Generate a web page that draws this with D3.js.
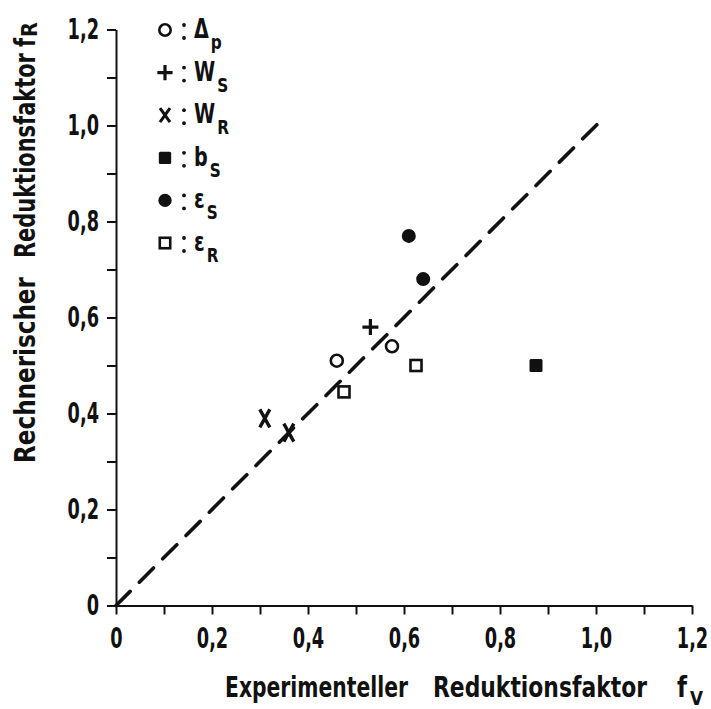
<!DOCTYPE html>
<html>
<head>
<meta charset="utf-8">
<script src="https://cdn.jsdelivr.net/npm/d3@7"></script>
<style>
  html, body { margin: 0; padding: 0; background: #fff; }
  svg { display: block; }
  text { font-family: "DejaVu Sans Condensed", "DejaVu Sans", sans-serif; font-weight: bold; fill: #111; }
</style>
</head>
<body>
<svg id="chart" width="711" height="709"></svg>
<script>
// Reduction factors: experimental (x) vs. computed (y), per parameter
const dpX  = [0.46, 0.575];   // open circles, Δp
const dpY  = [0.51, 0.54];
const wsX  = [0.53];          // plus, W_S
const wsY  = [0.58];
const wrX  = [0.31, 0.36];    // cross, W_R
const wrY  = [0.39, 0.36];
const bsX  = [0.875];         // filled square, b_S
const bsY  = [0.50];
const esX  = [0.61, 0.64];    // filled circles, ε_S
const esY  = [0.77, 0.68];
const erX  = [0.475, 0.625];  // open squares, ε_R
const erY  = [0.445, 0.50];

// Diagonal f_R = f_V
const diagonal = [0, 1.02];

// Axis ticks (every 0.1), labels on every second tick
const tickValues = [0, 0.1, 0.2, 0.3, 0.4, 0.5, 0.6, 0.7, 0.8, 0.9, 1.0, 1.1, 1.2];
const tickLabels = ["0", "0,2", "0,4", "0,6", "0,8", "1,0", "1,2"];

// Legend entries: main symbol name and subscript
const legendMain = ["\u0394", "W", "W", "b", "\u03b5", "\u03b5"];
const legendSub  = ["p", "S", "R", "S", "S", "R"];
const legendMark = ["openCircle", "plus", "cross", "filledSquare", "filledCircle", "openSquare"];

const svg = d3.select("#chart");
const ink = "#111";

const x = d3.scaleLinear().domain([0, 1.2]).range([116, 692]);
const y = d3.scaleLinear().domain([0, 1.2]).range([605.5, 29.5]);

const labelFor = d => {
  const i = Math.round(d * 10);
  return i % 2 === 0 ? tickLabels[i / 2] : "";
};

// Condensed lettering: a text placed at (x0, baseline), squeezed horizontally
// either by a factor or to a target width. Returns the resulting width.
function condensed(parent, str, x0, yb, size, opts) {
  const g = parent.append("g");
  const t = g.append("text").attr("x", 0).attr("y", 0).style("font-size", size + "px").text(str);
  const w = t.node().getComputedTextLength();
  const sx = opts.width ? opts.width / w : opts.factor;
  g.attr("transform", `translate(${x0},${yb}) scale(${sx},1)`);
  return w * sx;
}

// Axes
const gx = svg.append("g")
  .attr("transform", `translate(0,${y(0)})`)
  .call(d3.axisBottom(x).tickValues(tickValues).tickSize(9).tickSizeOuter(0)
    .tickPadding(13).tickFormat(labelFor));
const gy = svg.append("g")
  .attr("transform", `translate(${x(0)},0)`)
  .call(d3.axisLeft(y).tickValues(tickValues).tickSize(9).tickSizeOuter(0)
    .tickPadding(8).tickFormat(labelFor));

const tickSqueeze = 0.68;
[gx, gy].forEach(g => {
  g.select(".domain").attr("stroke", ink).attr("stroke-width", 2);
  g.selectAll(".tick line").attr("stroke", ink).attr("stroke-width", 2);
  g.selectAll(".tick text").style("font-size", "29px").each(function () {
    const t = d3.select(this);
    const x0 = +t.attr("x") || 0;
    t.attr("x", x0 / tickSqueeze).attr("transform", `scale(${tickSqueeze},1)`);
  });
});

// Diagonal dashed line
svg.append("line")
  .attr("x1", x(diagonal[0])).attr("y1", y(diagonal[0]))
  .attr("x2", x(diagonal[1])).attr("y2", y(diagonal[1]))
  .attr("stroke", ink).attr("stroke-width", 3.6)
  .attr("stroke-linecap", "round")
  .attr("stroke-dasharray", "20,13");

// Marker drawing helpers
function drawMark(g, kind, cx, cy, scale) {
  const s = scale || 1;
  if (kind === "openCircle") {
    g.append("circle").attr("cx", cx).attr("cy", cy).attr("r", 6 * s)
      .attr("fill", "none").attr("stroke", ink).attr("stroke-width", 2.6);
  } else if (kind === "filledCircle") {
    g.append("circle").attr("cx", cx).attr("cy", cy).attr("r", 7 * s)
      .attr("fill", ink);
  } else if (kind === "openSquare") {
    const h = 5.5 * s;
    g.append("rect").attr("x", cx - h).attr("y", cy - h).attr("width", 2 * h).attr("height", 2 * h)
      .attr("fill", "none").attr("stroke", ink).attr("stroke-width", 2.6);
  } else if (kind === "filledSquare") {
    const h = 6.5 * s;
    g.append("rect").attr("x", cx - h).attr("y", cy - h).attr("width", 2 * h).attr("height", 2 * h)
      .attr("rx", 1.5).attr("fill", ink);
  } else if (kind === "plus") {
    const h = 8 * s;
    g.append("path").attr("d", `M${cx - h},${cy}H${cx + h}M${cx},${cy - h}V${cy + h}`)
      .attr("stroke", ink).attr("stroke-width", 3.2).attr("fill", "none");
  } else if (kind === "cross") {
    const w = 5 * s, h = 9 * s;
    g.append("path")
      .attr("d", `M${cx - w},${cy - h}Q${cx},${cy} ${cx + w},${cy + h}M${cx + w},${cy - h}Q${cx},${cy} ${cx - w},${cy + h}`)
      .attr("stroke", ink).attr("stroke-width", 3.4).attr("fill", "none");
  }
}

const marks = svg.append("g");
const series = [
  ["openCircle", dpX, dpY],
  ["plus", wsX, wsY],
  ["cross", wrX, wrY],
  ["filledSquare", bsX, bsY],
  ["filledCircle", esX, esY],
  ["openSquare", erX, erY]
];
series.forEach(([kind, xs, ys]) => {
  xs.forEach((v, i) => drawMark(marks, kind, x(v), y(ys[i]), 1));
});

// Legend
const legend = svg.append("g");
legendMark.forEach((kind, i) => {
  const cy = 30 + i * 42.6;
  if (kind === "cross") {
    legend.append("path")
      .attr("d", `M${160},${cy - 7}L${170},${cy + 7}M${170},${cy - 7}L${160},${cy + 7}`)
      .attr("stroke", ink).attr("stroke-width", 3).attr("fill", "none");
  } else {
    drawMark(legend, kind, 165, cy, 0.95);
  }
  legend.append("circle").attr("cx", 184).attr("cy", cy - 5).attr("r", 1.9).attr("fill", ink);
  legend.append("circle").attr("cx", 184).attr("cy", cy + 8).attr("r", 1.9).attr("fill", ink);
  const w = condensed(legend, legendMain[i], 194, cy + 8, 26, { factor: 0.82 });
  condensed(legend, legendSub[i], 194 + w + 2, cy + 19, 20, { factor: 0.85 });
});

// X axis title
const xt = svg.append("g");
condensed(xt, "Experimenteller", 225, 697, 29, { width: 183 });
condensed(xt, "Reduktionsfaktor", 433, 697, 29, { width: 214 });
condensed(xt, "f", 677, 697, 29, { width: 10 });
condensed(xt, "V", 690, 705, 19, { width: 13 });

// Y axis title (rotated, reading upwards)
const yt = svg.append("g").attr("transform", "translate(35,0) rotate(-90)");
condensed(yt, "Rechnerischer", -463, 0, 29, { width: 186 });
condensed(yt, "Reduktionsfaktor", -258, 0, 29, { width: 205 });
condensed(yt, "f", -47, 0, 29, { width: 9 });
condensed(yt, "R", -37, 2, 22, { width: 15 });
</script>
</body>
</html>
